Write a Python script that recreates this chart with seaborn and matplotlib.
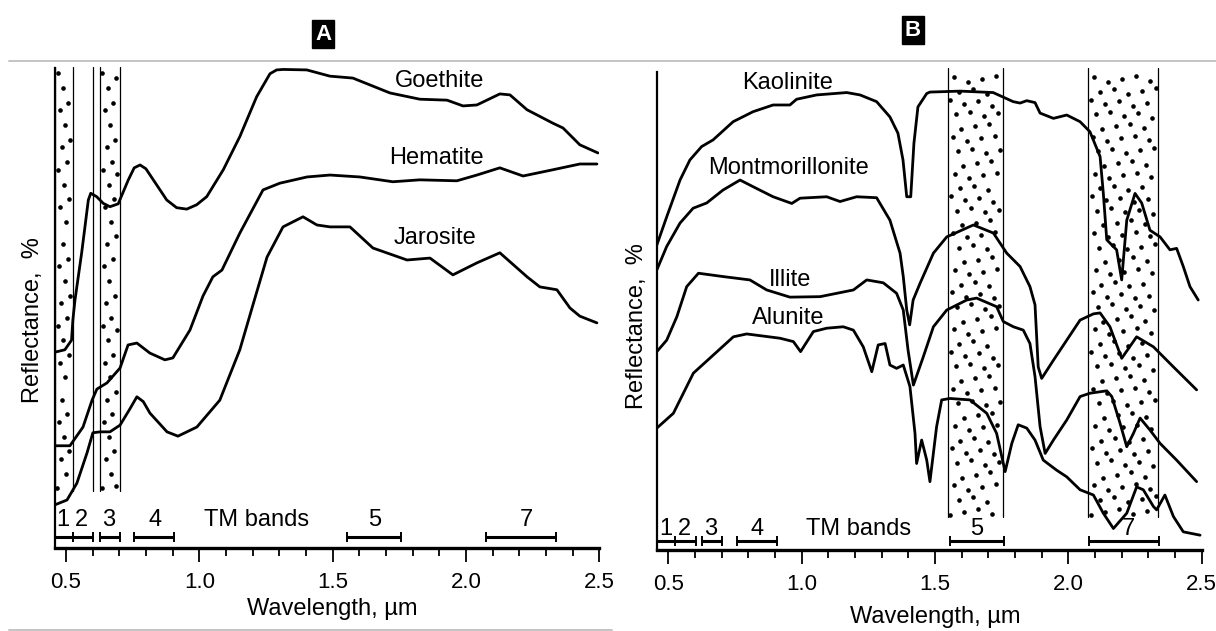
import numpy as np
import pandas as pd
import matplotlib
matplotlib.use("Agg")
import matplotlib.pyplot as plt
from matplotlib.lines import Line2D
import seaborn as sns

# ---------------- Panel A: iron-bearing minerals ----------------
goethite_wl = [0.459, 0.496, 0.521, 0.526, 0.534, 0.559, 0.584, 0.593, 0.615, 0.640, 0.665, 0.696,
               0.734, 0.756, 0.778, 0.800, 0.830, 0.878, 0.915, 0.953, 0.990, 1.028, 1.090, 1.152,
               1.215, 1.265, 1.290, 1.315, 1.403, 1.490, 1.576, 1.715, 1.827, 1.929, 1.989, 2.041,
               2.127, 2.165, 2.229, 2.326, 2.364, 2.427, 2.495]
goethite_r = [40.8, 41.3, 43.3, 47.5, 51.7, 61.5, 72.5, 73.9, 73.2, 71.8, 71.1, 71.7,
              76.7, 79.2, 79.8, 79.0, 76.5, 72.5, 70.9, 70.6, 71.5, 73.2, 78.8, 85.7,
              94.0, 98.8, 99.6, 99.7, 99.6, 98.3, 97.9, 94.8, 93.5, 93.3, 92.1, 92.3,
              94.6, 94.4, 91.3, 88.5, 87.5, 84.0, 82.3]

hematite_wl = [0.459, 0.515, 0.564, 0.598, 0.616, 0.654, 0.703, 0.733, 0.766, 0.815, 0.871,
               0.901, 0.965, 1.014, 1.051, 1.085, 1.152, 1.239, 1.302, 1.404, 1.490, 1.602,
               1.726, 1.827, 1.966, 2.041, 2.127, 2.214, 2.326, 2.427, 2.491]
hematite_r = [21.3, 21.3, 25.2, 30.8, 33.1, 34.4, 37.5, 42.3, 42.7, 40.6, 39.2,
              39.6, 45.4, 52.5, 56.5, 57.9, 65.6, 74.6, 76.0, 77.3, 77.7, 77.3,
              76.3, 76.7, 76.5, 77.7, 79.2, 77.5, 78.8, 80.0, 80.0]

jarosite_wl = [0.459, 0.504, 0.541, 0.579, 0.601, 0.628, 0.665, 0.703, 0.740, 0.766, 0.790,
               0.815, 0.879, 0.920, 0.991, 1.077, 1.152, 1.201, 1.254, 1.314, 1.389, 1.441,
               1.490, 1.565, 1.651, 1.779, 1.865, 1.951, 2.041, 2.127, 2.229, 2.277, 2.341,
               2.390, 2.427, 2.491]
jarosite_r = [9.0, 10.0, 13.5, 19.8, 24.0, 24.2, 24.2, 25.6, 29.0, 31.5, 30.5,
              28.1, 24.2, 23.3, 25.2, 30.8, 41.3, 50.6, 60.6, 66.9, 69.0, 67.3,
              66.9, 66.9, 62.5, 60.0, 60.4, 56.9, 59.4, 61.5, 56.5, 54.4, 53.8,
              50.0, 48.3, 46.9]

labels_a = ["Goethite", "Hematite", "Jarosite"]
label_a_wl = [1.90, 1.89, 1.885]
label_a_r = [97.3, 81.3, 64.6]

# ---------------- Panel B: clay / sulphate minerals ----------------
kaolinite_wl = [0.457, 0.494, 0.544, 0.581, 0.625, 0.668, 0.743, 0.818, 0.893, 0.956, 0.981,
                1.056, 1.169, 1.219, 1.281, 1.331, 1.361, 1.380, 1.394, 1.409, 1.421, 1.436,
                1.469, 1.481, 1.594, 1.718, 1.793, 1.819, 1.844, 1.875, 1.894, 1.944, 1.994,
                2.044, 2.081, 2.119, 2.131, 2.144, 2.163, 2.181, 2.200, 2.219, 2.250, 2.275,
                2.306, 2.344, 2.381, 2.406, 2.431, 2.456, 2.487]
kaolinite_r = [63.8, 69.7, 77.4, 81.6, 84.4, 85.8, 89.6, 91.7, 93.1, 93.1, 94.3,
               95.2, 95.7, 95.2, 93.8, 90.6, 87.2, 81.6, 73.9, 73.9, 85.1, 92.7,
               95.5, 95.8, 96.0, 95.7, 93.8, 93.5, 94.0, 93.6, 91.4, 90.3, 91.0,
               89.6, 87.5, 82.3, 74.7, 64.9, 63.8, 62.8, 56.5, 69.0, 74.6, 72.6,
               66.9, 65.5, 62.8, 63.1, 59.3, 55.1, 52.3]

montmorillonite_wl = [0.457, 0.494, 0.544, 0.593, 0.644, 0.705, 0.769, 0.818, 0.893, 0.963,
                      0.994, 1.094, 1.144, 1.206, 1.281, 1.331, 1.369, 1.381, 1.394, 1.405,
                      1.418, 1.444, 1.494, 1.544, 1.644, 1.719, 1.769, 1.819, 1.856, 1.875,
                      1.887, 1.900, 1.944, 1.994, 2.044, 2.094, 2.119, 2.156, 2.200, 2.256,
                      2.319, 2.394, 2.481]
montmorillonite_r = [58.6, 63.5, 68.4, 71.5, 72.6, 75.3, 77.4, 76.0, 73.9, 72.5,
                     73.6, 73.9, 72.9, 73.9, 73.7, 69.0, 62.1, 57.2, 50.2, 47.1,
                     52.3, 55.8, 62.1, 65.5, 68.0, 66.3, 62.1, 59.3, 55.1, 51.3,
                     38.3, 35.9, 39.7, 43.9, 48.1, 49.4, 49.6, 46.7, 40.1, 44.6,
                     42.5, 38.3, 33.5]

illite_wl = [0.457, 0.494, 0.532, 0.569, 0.613, 0.706, 0.806, 0.869, 0.956, 1.069, 1.194,
             1.244, 1.306, 1.356, 1.381, 1.399, 1.419, 1.456, 1.494, 1.544, 1.619, 1.656,
             1.731, 1.756, 1.794, 1.831, 1.856, 1.875, 1.894, 1.913, 1.944, 1.994, 2.044,
             2.081, 2.144, 2.163, 2.194, 2.219, 2.244, 2.269, 2.306, 2.344, 2.406, 2.481]
illite_r = [41.5, 43.9, 48.8, 55.1, 57.9, 57.2, 56.5, 54.4, 52.9, 53.0, 54.4,
            56.5, 55.9, 53.7, 50.2, 41.8, 34.5, 40.4, 46.7, 50.2, 52.3, 52.7,
            50.9, 47.8, 46.7, 46.0, 43.2, 36.3, 25.8, 20.2, 23.0, 27.2, 32.1,
            32.8, 33.3, 32.1, 26.5, 21.6, 24.4, 27.6, 25.1, 22.3, 18.8, 14.3]

alunite_wl = [0.457, 0.519, 0.594, 0.669, 0.744, 0.794, 0.919, 0.969, 0.996, 1.044, 1.094,
              1.156, 1.194, 1.231, 1.263, 1.287, 1.313, 1.331, 1.356, 1.381, 1.406, 1.425,
              1.431, 1.450, 1.469, 1.481, 1.506, 1.525, 1.556, 1.631, 1.694, 1.731, 1.763,
              1.788, 1.812, 1.844, 1.875, 1.906, 1.956, 1.994, 2.044, 2.094, 2.131, 2.169,
              2.219, 2.256, 2.281, 2.319, 2.331, 2.362, 2.394, 2.431, 2.494]
alunite_r = [25.5, 28.6, 37.0, 40.8, 44.6, 45.2, 44.3, 43.6, 41.5, 45.7, 46.4,
             46.7, 46.0, 42.5, 37.3, 42.9, 43.2, 38.7, 38.0, 38.7, 34.2, 24.4,
             18.1, 23.0, 18.8, 14.3, 25.8, 31.4, 31.7, 31.4, 28.6, 24.4, 16.4,
             22.3, 26.2, 25.5, 23.0, 18.8, 16.7, 15.3, 12.6, 11.5, 7.7, 4.5,
             7.7, 13.2, 12.6, 9.1, 8.4, 11.5, 7.0, 3.8, 3.1]

labels_b = ["Kaolinite", "Montmorillonite", "Illite", "Alunite"]
label_b_wl = [0.948, 0.950, 0.956, 0.950]
label_b_r = [97.8, 79.9, 56.5, 48.5]

# ---------------- Thematic Mapper bands ----------------
tm_band_names = ["1", "2", "3", "4", "5", "7"]
tm_band_lo = [0.459, 0.526, 0.626, 0.756, 1.555, 2.077]
tm_band_hi = [0.526, 0.603, 0.701, 0.907, 1.757, 2.339]
tm_label_wl = [0.49, 0.56, 0.66, 0.834, 1.658, 2.225]

stipple_a_lo = [0.459, 0.627]
stipple_a_hi = [0.527, 0.702]
extra_lines_a = [0.602]
stipple_b_lo = [1.548, 2.075]
stipple_b_hi = [1.754, 2.337]

xticks_major = [0.5, 1.0, 1.5, 2.0, 2.5]
xtick_labels = ["0.5", "1.0", "1.5", "2.0", "2.5"]

# ---------------- styling ----------------
sns.set_theme(style="white")
plt.rcParams["font.family"] = ["Liberation Sans", "DejaVu Sans"]
plt.rcParams.update({"text.color": "black", "axes.labelcolor": "black",
                     "xtick.color": "black", "xtick.labelcolor": "black"})

W, H = 1216, 631
PX_PER_UM = 266.7
fig = plt.figure(figsize=(W / 100, H / 100), dpi=100)
fig.patch.set_facecolor("white")


def px_axes(left, right, top, bottom):
    return fig.add_axes([left / W, (H - bottom) / H, (right - left) / W, (bottom - top) / H])


axA = px_axes(55, 599.3, 68, 548)
axB = px_axes(656.7, 1201.7, 72, 550)


def make_df(names, wls, rs):
    frames = []
    for n, w, r in zip(names, wls, rs):
        frames.append(pd.DataFrame({"mineral": n, "wavelength": w, "reflectance": r}))
    return pd.concat(frames, ignore_index=True)


dfA = make_df(labels_a, [goethite_wl, hematite_wl, jarosite_wl],
              [goethite_r, hematite_r, jarosite_r])
dfB = make_df(labels_b, [kaolinite_wl, montmorillonite_wl, illite_wl, alunite_wl],
              [kaolinite_r, montmorillonite_r, illite_r, alunite_r])


def stipple(ax, lo, hi, ybot, ytop, px_per_unit):
    """Dot texture (a quasi-irregular lattice) filling one band window."""
    dx = 14.0 / PX_PER_UM
    dy = 12.0 / px_per_unit
    margin = 2.5 / PX_PER_UM
    xs, ys = [], []
    for i, y in enumerate(np.arange(ybot + dy / 2, ytop, dy)):
        off = ((i * 0.618) % 1.0) * dx
        cols = np.arange(lo + margin + off, hi - margin, dx)
        for j, x in enumerate(cols):
            xs.append(x)
            ys.append(y + (((i + j) * 0.382) % 1.0 - 0.5) * dy * 0.6)
    ax.scatter(xs, ys, s=11, color="black", linewidths=0, clip_on=False, zorder=1)


def style_axis(ax, xmin, tm_y, tm_text_y, stip_lo, stip_hi, stip_bottom, stip_top, extra,
               px_per_unit):
    ax.set_xlim(xmin, 2.5)
    ax.set_ylim(0, 100)
    ax.set_facecolor("white")
    for s in ["top", "right"]:
        ax.spines[s].set_visible(False)
    ax.spines["left"].set_linewidth(1.6)
    ax.spines["bottom"].set_linewidth(2.4)
    for s in ["left", "bottom"]:
        ax.spines[s].set_color("black")
    ax.set_yticks([])
    ax.set_xticks(xticks_major)
    ax.set_xticklabels(xtick_labels)
    ax.set_xticks(np.arange(0.5, 2.51, 0.1), minor=True)
    ax.tick_params(axis="x", which="major", direction="out", length=10, width=1.3,
                   color="black", labelsize=16, pad=7, bottom=True)
    ax.tick_params(axis="x", which="minor", direction="out", length=6, width=1.3,
                   color="black", bottom=True)
    # stippled band windows
    for lo, hi in zip(stip_lo, stip_hi):
        stipple(ax, lo, hi, stip_bottom * 100, stip_top * 100, px_per_unit)
        ax.axvline(lo, ymin=stip_bottom, ymax=stip_top, color="black", lw=0.9, clip_on=False)
        ax.axvline(hi, ymin=stip_bottom, ymax=stip_top, color="black", lw=0.9, clip_on=False)
    for x in extra:
        ax.axvline(x, ymin=stip_bottom, ymax=stip_top, color="black", lw=0.9, clip_on=False)
    # TM band bars
    n = len(tm_band_lo)
    ax.hlines([tm_y] * n, tm_band_lo, tm_band_hi, color="black", lw=2.2)
    ends = sorted(set(tm_band_lo + tm_band_hi))
    ax.vlines(ends, [tm_y - 1.0] * len(ends), [tm_y + 1.0] * len(ends), color="black", lw=1.4)
    for name, x in zip(tm_band_names, tm_label_wl):
        ax.text(x, tm_text_y, name, ha="center", va="center", fontsize=17)
    ax.text(1.215, tm_text_y, "TM bands", ha="center", va="center", fontsize=17)


style_axis(axA, 0.459, 2.3, 5.9, stipple_a_lo, stipple_a_hi, 0.119, 1.002, extra_lines_a, 4.8)
style_axis(axB, 0.4565, 1.9, 4.3, stipple_b_lo, stipple_b_hi, 0.069, 1.008, [], 4.78)

for ax, df in [(axA, dfA), (axB, dfB)]:
    sns.lineplot(data=df, x="wavelength", y="reflectance", units="mineral", estimator=None,
                 color="black", lw=2.0, sort=False, ax=ax, legend=False, zorder=3)

for n, x, y in zip(labels_a, label_a_wl, label_a_r):
    axA.text(x, y, n, ha="center", va="center", fontsize=17)
for n, x, y in zip(labels_b, label_b_wl, label_b_r):
    axB.text(x, y, n, ha="center", va="center", fontsize=17)

for ax, ylab_x, ylab_y, xlab_y in [(axA, -0.0404, 0.475, -0.104), (axB, -0.036, 0.469, -0.117)]:
    ax.set_xlabel("Wavelength, µm", fontsize=17)
    ax.set_ylabel("")
    x0, x1 = ax.get_xlim()
    ax.xaxis.set_label_coords((1.5 - x0) / (x1 - x0), xlab_y)
    ax.text(ylab_x, ylab_y, "Reflectance,  %", rotation=90, fontsize=17, ha="center",
            va="center", transform=ax.transAxes, clip_on=False)

# panel letters
for letter, xp, yp in [("A", 323, 34), ("B", 913, 30)]:
    fig.text(xp / W, (H - yp) / H, letter, color="white", fontsize=16, fontweight="bold",
             ha="center", va="center",
             bbox=dict(boxstyle="square,pad=0.14", facecolor="black", edgecolor="black"))

# thin grey separator lines
fig.add_artist(Line2D([9 / W, 1.0], [(H - 60.5) / H] * 2, color="#c4c4c4", lw=1.4))
fig.add_artist(Line2D([9 / W, 612 / W], [(H - 630) / H] * 2, color="#c4c4c4", lw=1.4))

fig.savefig("out.png", dpi=100, facecolor="white")
